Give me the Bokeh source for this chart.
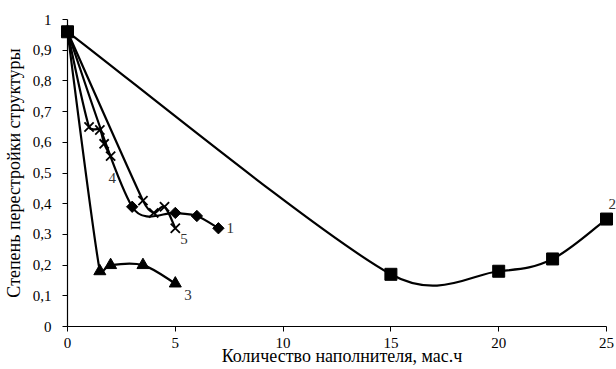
import numpy as np
from bokeh.plotting import figure
from bokeh.models import Range1d, FixedTicker, LabelSet, ColumnDataSource
from bokeh.embed import file_html
from bokeh.resources import INLINE

# ---------------- data ----------------
s1_x = [0, 3, 5, 6, 7]
s1_y = [0.96, 0.39, 0.37, 0.36, 0.32]
s2_x = [0, 15, 20, 22.5, 25]
s2_y = [0.96, 0.17, 0.18, 0.22, 0.35]
s3_x = [0, 1.5, 2, 3.5, 5]
s3_y = [0.96, 0.18, 0.20, 0.20, 0.14]
s4_x = [0, 1, 1.5, 1.7, 2]
s4_y = [0.96, 0.65, 0.64, 0.595, 0.555]
s5_x = [0, 3.5, 4, 4.5, 5]
s5_y = [0.96, 0.41, 0.37, 0.39, 0.32]
series_names = ["1", "2", "3", "4", "5"]

x_ticks = [0, 5, 10, 15, 20, 25]
y_ticks = [0, 0.1, 0.2, 0.3, 0.4, 0.5, 0.6, 0.7, 0.8, 0.9, 1.0]
y_tick_labels = ["0", "0,1", "0,2", "0,3", "0,4", "0,5", "0,6", "0,7", "0,8", "0,9", "1"]
x_title = "Количество наполнителя, мас.ч"
y_title = "Степень перестройки структуры"

# ---------------- layout ----------------
W, H = 616, 369
FL, FT, FB = 67, 19, 43
frame_w = W - FL
frame_h = H - FT - FB
PX_PER_X = 539.0 / 25.0
X1 = frame_w / PX_PER_X
SX = PX_PER_X
SY = float(frame_h)

FONT = "Liberation Serif"

p = figure(width=W, height=H, output_backend="svg", toolbar_location=None,
           x_range=Range1d(0, X1), y_range=Range1d(0, 1),
           min_border_left=FL, min_border_right=0, min_border_top=FT,
           min_border_bottom=FB)
p.outline_line_color = None
p.xgrid.visible = False
p.ygrid.visible = False
p.background_fill_color = "white"
p.border_fill_color = "white"

for ax in (p.xaxis[0], p.yaxis[0]):
    ax.axis_line_color = "black"
    ax.axis_line_width = 1.2
    ax.major_tick_line_color = "black"
    ax.major_tick_in = 0
    ax.major_tick_out = 5
    ax.minor_tick_in = 0
    ax.minor_tick_out = 0
    ax.major_label_text_font = FONT
    ax.major_label_text_font_size = "15px"
    ax.major_label_text_color = "black"
    ax.axis_label_text_font = FONT
    ax.axis_label_text_font_style = "normal"
    ax.axis_label_text_color = "black"

xa = p.xaxis[0]
xa.ticker = FixedTicker(ticks=x_ticks)
xa.bounds = (0, 25)
xa.major_label_standoff = 6
xa.axis_label = x_title
xa.axis_label_text_font_size = "18px"
xa.axis_label_standoff = -5

ya = p.yaxis[0]
ya.ticker = FixedTicker(ticks=y_ticks)
ya.bounds = (0, 1)
ya.major_label_standoff = 11
ya.major_label_overrides = {t: l for t, l in zip(y_ticks, y_tick_labels)}
ya.axis_label = y_title
ya.axis_label_text_font_size = "18px"
ya.axis_label_standoff = 6


def bezier_parts(xs, ys):
    P = np.column_stack([np.asarray(xs, float) * SX, np.asarray(ys, float) * SY])
    n = len(P)
    T = np.zeros_like(P)
    for i in range(n):
        T[i] = (P[min(i + 1, n - 1)] - P[max(i - 1, 0)]) / 6.0
    d = dict(x0=[], y0=[], x1=[], y1=[], cx0=[], cy0=[], cx1=[], cy1=[])
    for i in range(n - 1):
        L = np.linalg.norm(P[i + 1] - P[i])
        t0 = T[i]
        t1 = T[i + 1]
        n0 = np.linalg.norm(t0)
        n1 = np.linalg.norm(t1)
        k0 = min(1.0, 0.5 * L / n0) if n0 > 0 else 0
        k1 = min(1.0, 0.5 * L / n1) if n1 > 0 else 0
        c0 = P[i] + t0 * k0
        c1 = P[i + 1] - t1 * k1
        d["x0"].append(P[i][0] / SX); d["y0"].append(P[i][1] / SY)
        d["x1"].append(P[i + 1][0] / SX); d["y1"].append(P[i + 1][1] / SY)
        d["cx0"].append(c0[0] / SX); d["cy0"].append(c0[1] / SY)
        d["cx1"].append(c1[0] / SX); d["cy1"].append(c1[1] / SY)
    return ColumnDataSource(d)


def draw_series(xs, ys, marker, size, angle=0.0, lw=1.0):
    p.bezier(x0="x0", y0="y0", x1="x1", y1="y1", cx0="cx0", cy0="cy0",
             cx1="cx1", cy1="cy1", source=bezier_parts(xs, ys),
             line_color="black", line_width=2.2, level="overlay")
    p.scatter(xs, ys, marker=marker, size=size, angle=angle,
              fill_color="black", line_color="black", line_width=lw,
              level="overlay")


draw_series(s1_x, s1_y, "square", 8, angle=np.pi / 4)
draw_series(s3_x, s3_y, "triangle", 12)
draw_series(s4_x, s4_y, "x", 13, lw=1.8)
draw_series(s5_x, s5_y, "x", 13, lw=1.8)
draw_series(s2_x, s2_y, "square", 12)

# series labels near last points
lab_src = ColumnDataSource(dict(
    x=[s1_x[-1], s2_x[-1], s3_x[-1], s4_x[-1], s5_x[-1]],
    y=[s1_y[-1], s2_y[-1], s3_y[-1], s4_y[-1], s5_y[-1]],
    text=series_names,
    dx=[8, 2, 9, -2, 5],
    dy=[0, 15, -11, -22, -11],
))
p.add_layout(LabelSet(x="x", y="y", text="text", source=lab_src,
                      x_offset="dx", y_offset="dy",
                      text_font=FONT, text_font_size="15px",
                      text_color="#333333", text_align="left",
                      text_baseline="middle"))

open("out.html", "w").write(file_html(p, INLINE))
